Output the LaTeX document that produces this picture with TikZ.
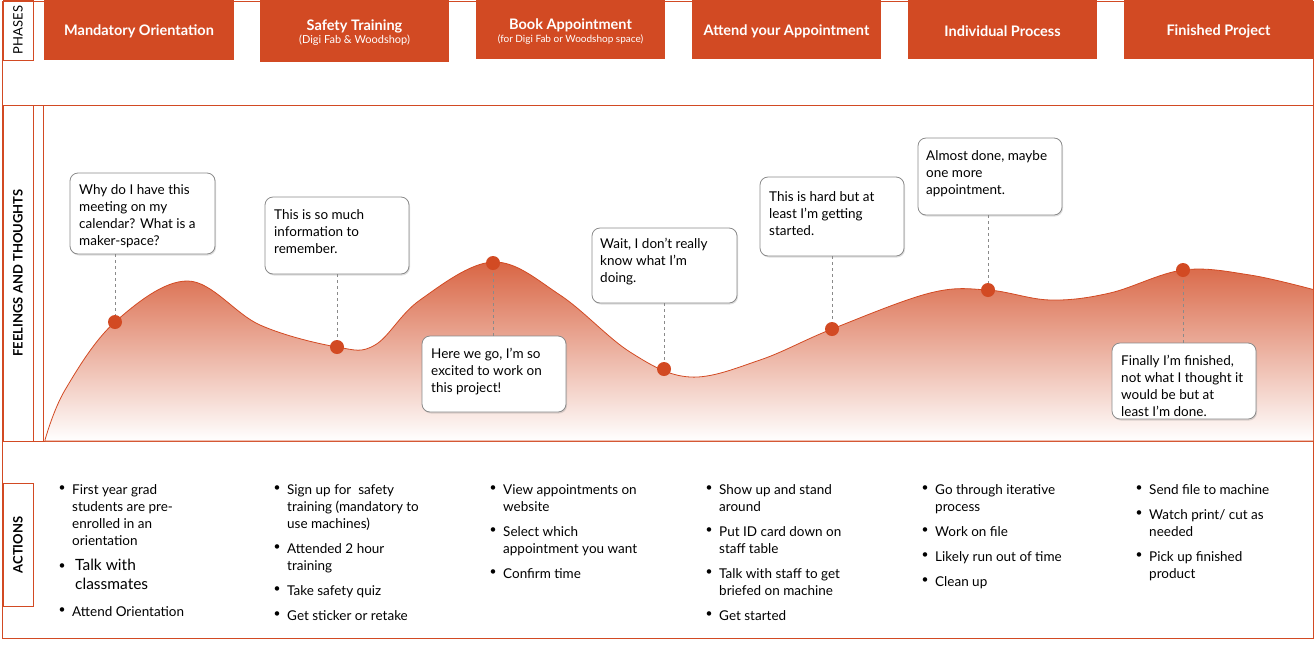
\documentclass[tikz,border=0pt]{standalone}
\usepackage{fontspec}
\setmainfont{Lato}
\usetikzlibrary{shadows}
\definecolor{org}{HTML}{D24A23}
\definecolor{bub}{HTML}{8A8A8A}
\begin{document}
\begin{tikzpicture}[x=1pt,y=-1pt,
  frame/.style={draw=org,line width=1pt},
  phase/.style={fill=org,inner sep=0},
  ptext/.style={text=white,align=center,font=\fontsize{14.5}{16}\selectfont\bfseries,inner sep=0},
  bubble/.style={draw=bub,fill=white,rounded corners=8pt,line width=0.8pt,drop shadow={opacity=0.25,shadow xshift=1pt,shadow yshift=-1.5pt},inner sep=0},
  btext/.style={anchor=north west,align=left,font=\fontsize{13.5}{17}\selectfont,inner sep=0,yshift=-3pt},
  dot/.style={circle,fill=org,minimum size=14pt,inner sep=0},
  leader/.style={draw=bub,dashed,line width=0.7pt},
  side/.style={rotate=90,font=\fontsize{13}{15}\selectfont},
  act/.style={anchor=north west,align=left,font=\fontsize{13.5}{17}\selectfont,inner sep=0}
]
\useasboundingbox (0,0) rectangle (1316,646);
% frames
\draw[frame] (2,1) rectangle (1313,638);
\draw[frame] (2,105) -- (1313,105);
\draw[frame] (2,441) -- (1313,441);
\draw[frame] (3,0) rectangle (33,60);
\draw[frame] (3,105) rectangle (33,441);
\draw[frame] (3,483) rectangle (33,606);
\draw[frame] (43,105) rectangle (1313,441);
\node[side] (lp) at (18,30) {PHASES};
\node[side,font=\fontsize{13}{15}\selectfont\bfseries] (lf) at (18,273) {FEELINGS AND THOUGHTS};
\node[side,font=\fontsize{13}{15}\selectfont\bfseries] (la) at (18,545) {ACTIONS};
% phases
\node[phase,minimum width=190pt,minimum height=60pt] (p1) at (139,30) {};
\node[ptext] at (139,31) {Mandatory Orientation};
\node[phase,minimum width=189pt,minimum height=62pt] (p2) at (354.5,31) {};
\node[ptext] at (354.5,33) {Safety Training\\[-3pt]{\fontsize{11}{12}\selectfont\mdseries (Digi Fab \& Woodshop)}};
\node[phase,minimum width=189pt,minimum height=59pt] (p3) at (570.5,29.5) {};
\node[ptext] at (570.5,32) {Book Appointment\\[-3pt]{\fontsize{10}{11}\selectfont\mdseries (for Digi Fab or Woodshop space)}};
\node[phase,minimum width=189pt,minimum height=59pt] (p4) at (786.5,29.5) {};
\node[ptext] at (786.5,31) {Attend your Appointment};
\node[phase,minimum width=189pt,minimum height=59pt] (p5) at (1002.5,29.5) {};
\node[ptext] at (1002.5,31) {Individual Process};
\node[phase,minimum width=189pt,minimum height=59pt] (p6) at (1218.5,29.5) {};
\node[ptext] at (1218.5,31) {Finished Project};
% curve
\begin{scope}
\clip (43,105) rectangle (1313,441);
\shade[top color=org!85,bottom color=white,draw=org,line width=0.8pt]
 plot[smooth,tension=0.6] coordinates {(45,440) (65,390) (115,322) (188,281) (260,325) (337,347) (375,345) (420,300) (493,262) (560,295) (630,352) (690,377) (760,360) (832,329) (930,293) (988,290) (1050,300) (1110,293) (1183,270) (1250,275) (1315,290)}
 -- (1315,441) -- (45,441) -- cycle;
\end{scope}
% dots
\node[dot] (d1) at (115,322) {};
\node[dot] (d2) at (337,347) {};
\node[dot] (d3) at (493,263) {};
\node[dot] (d4) at (664,369) {};
\node[dot] (d5) at (832,329) {};
\node[dot] (d6) at (988,290) {};
\node[dot] (d7) at (1183,270) {};
% bubbles
\node[bubble,minimum width=145pt,minimum height=81pt] (b1) at (142.5,213.5) {};
\node[btext] (t1) at (79,181) {Why do I have this\\meeting on my\\calendar? What is a\\maker-space?};
\node[bubble,minimum width=144pt,minimum height=77pt] (b2) at (337,235.5) {};
\node[btext] (t2) at (274,206) {This is so much\\information to\\remember.};
\node[bubble,minimum width=144pt,minimum height=76pt] (b3) at (494,374) {};
\node[btext] (t3) at (431,345) {Here we go, I'm so\\excited to work on\\this project!};
\node[bubble,minimum width=145pt,minimum height=75pt] (b4) at (664.5,265.5) {};
\node[btext] (t4) at (600,235) {Wait, I don't really\\know what I'm\\doing.};
\node[bubble,minimum width=144pt,minimum height=79pt] (b5) at (832,216.5) {};
\node[btext] (t5) at (769,188) {This is hard but at\\least I'm getting\\started.};
\node[bubble,minimum width=144pt,minimum height=77pt] (b6) at (990,176.5) {};
\node[btext] (t6) at (926,147) {Almost done, maybe\\one more\\appointment.};
\node[bubble,minimum width=144pt,minimum height=76pt] (b7) at (1184,381) {};
\node[btext] (t7) at (1121,352) {Finally I'm finished,\\not what I thought it\\would be but at\\least I'm done.};
\draw[leader] (b1.south -| d1) -- (d1);
\draw[leader] (b2.south -| d2) -- (d2);
\draw[leader] (b3.north -| d3) -- (d3);
\draw[leader] (b4.south -| d4) -- (d4);
\draw[leader] (b5.south -| d5) -- (d5);
\draw[leader] (b6.south -| d6) -- (d6);
\draw[leader] (b7.north -| d7) -- (d7);
% actions
\newcommand\actitem[4]{\node[font=\fontsize{12}{12}\selectfont,inner sep=0] (#1b) at (#2,#3) {\textbullet};
  \node[act] (#1) at (#2+10,#3-5) {#4};}
\actitem{a11}{62}{489}{First year grad\\students are pre-\\enrolled in an\\orientation}
\node[font=\fontsize{12}{12}\selectfont,inner sep=0] (a12b) at (62,567) {\textbullet};
\node[act,font=\fontsize{15.5}{19}\selectfont] (a12) at (75,559) {Talk with\\classmates};
\actitem{a13}{62}{611}{Attend Orientation}
\actitem{a21}{277}{489}{Sign up for\ \ safety\\training (mandatory to\\use machines)}
\actitem{a22}{277}{548}{Attended 2 hour\\training}
\actitem{a23}{277}{590}{Take safety quiz}
\actitem{a24}{277}{615}{Get sticker or retake}
\actitem{a31}{493}{489}{View appointments on\\website}
\actitem{a32}{493}{531}{Select which\\appointment you want}
\actitem{a33}{493}{573}{Confirm time}
\actitem{a41}{709}{489}{Show up and stand\\around}
\actitem{a42}{709}{531}{Put ID card down on\\staff table}
\actitem{a43}{709}{573}{Talk with staff to get\\briefed on machine}
\actitem{a44}{709}{615}{Get started}
\actitem{a51}{925}{489}{Go through iterative\\process}
\actitem{a52}{925}{531}{Work on file}
\actitem{a53}{925}{556}{Likely run out of time}
\actitem{a54}{925}{581}{Clean up}
\actitem{a61}{1139}{489}{Send file to machine}
\actitem{a62}{1139}{514}{Watch print/ cut as\\needed}
\actitem{a63}{1139}{556}{Pick up finished\\product}
\end{tikzpicture}
\end{document}
